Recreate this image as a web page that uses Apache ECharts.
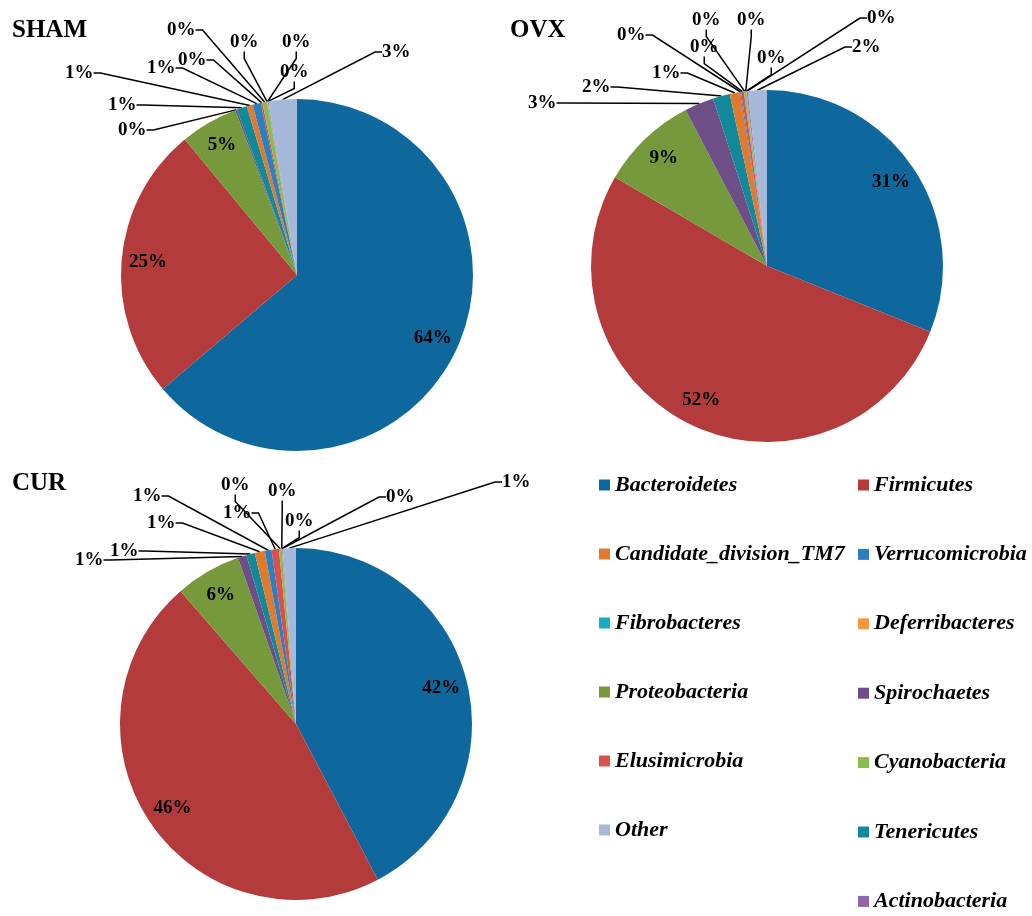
<!DOCTYPE html>
<html>
<head>
<meta charset="utf-8">
<script src="https://cdn.jsdelivr.net/npm/echarts@6/dist/echarts.min.js"></script>
<style>
  html, body { margin: 0; padding: 0; background: #ffffff; }
  #chart { width: 1032px; height: 916px; }
</style>
</head>
<body>
<div id="chart"></div>
<script>
// Phyla in slice order (clockwise from 12 o'clock)
const phyla = [
  'Bacteroidetes', 'Firmicutes', 'Proteobacteria', 'Spirochaetes', 'Tenericutes',
  'Candidate_division_TM7', 'Verrucomicrobia', 'Elusimicrobia', 'Cyanobacteria',
  'Fibrobacteres', 'Deferribacteres', 'Actinobacteria', 'Other'
];

// Relative abundance (%) per group, same order as phyla
const shamValues = [63.8, 25.2, 5.3, 0.15, 0.95, 0.55, 0.75, 0.15, 0.4, 0.05, 0.05, 0.05, 2.6];
const ovxValues  = [31.1, 52.3, 8.95, 2.7, 1.55, 0.95, 0.1, 0.25, 0.15, 0.05, 0.05, 0.1, 1.75];
const curValues  = [42.3, 46.3, 6.05, 0.8, 0.78, 0.93, 0.62, 0.67, 0.25, 0.02, 0.03, 0.05, 1.2];

const groupNames = ['SHAM', 'OVX', 'CUR'];

// Legend columns
const legendLeftNames  = ['Bacteroidetes', 'Candidate_division_TM7', 'Fibrobacteres', 'Proteobacteria', 'Elusimicrobia', 'Other'];
const legendRightNames = ['Firmicutes', 'Verrucomicrobia', 'Deferribacteres', 'Spirochaetes', 'Cyanobacteria', 'Tenericutes', 'Actinobacteria'];

// Styling
const phylumColors = {
  'Bacteroidetes': '#0E689E',
  'Firmicutes': '#B33B3B',
  'Proteobacteria': '#76993C',
  'Spirochaetes': '#6E4E86',
  'Tenericutes': '#12899A',
  'Candidate_division_TM7': '#E07A2E',
  'Verrucomicrobia': '#2B7FC3',
  'Elusimicrobia': '#D9504D',
  'Cyanobacteria': '#8DBB4B',
  'Fibrobacteres': '#17ABC8',
  'Deferribacteres': '#F7963F',
  'Actinobacteria': '#8C66AA',
  'Other': '#A6B9DA'
};
const FONT = "'Liberation Serif', 'Times New Roman', serif";
const RADIUS = 176;
const INNER_LABEL_RATIO = 0.85;   // big-slice labels sit near the rim
const BIG_SLICES = 3;             // first three slices are labelled inside

// Pie placement and where the callout labels of the small slices go
const pieLayouts = [
  { center: [297, 275], titlePos: [12, 18],
    callouts: [[118,130],[108,105],[65,73],[147,68],[178,60],[167,30],[230,42],[282,42],[280,72],[382,52]] },
  { center: [767, 266], titlePos: [510, 18],
    callouts: [[528,103],[582,87],[652,73],[617,35],[690,47],[692,20],[737,20],[757,58],[867,18],[852,47]] },
  { center: [296, 724], titlePos: [12, 471],
    callouts: [[75,560],[110,551],[147,523],[133,496],[223,513],[221,485],[268,491],[285,521],[386,497],[502,482]] }
];
const groupValues = [shamValues, ovxValues, curValues];

function makeSeries(gi) {
  const values = groupValues[gi];
  const lay = pieLayouts[gi];
  const total = values.reduce((a, b) => a + b, 0);
  const cumBefore = [];
  values.reduce((acc, v, i) => { cumBefore[i] = acc; return acc + v; }, 0);

  return {
    type: 'pie',
    name: groupNames[gi],
    center: lay.center,
    radius: RADIUS,
    startAngle: 90,
    clockwise: true,
    avoidLabelOverlap: false,
    animation: false,
    silent: true,
    itemStyle: { borderWidth: 0 },
    data: phyla.map((name, i) => ({
      name: name,
      value: values[i],
      itemStyle: { color: phylumColors[name] },
      labelLine: { show: i >= BIG_SLICES }
    })),
    label: {
      show: true,
      position: 'outside',
      formatter: p => Math.round(p.value / total * 100) + '%',
      fontFamily: FONT,
      fontWeight: 'bold',
      fontSize: 19,
      color: '#000000',
      padding: [0, 3]
    },
    labelLine: {
      show: true,
      length: 10,
      length2: 7,
      minTurnAngle: 0,
      smooth: false,
      lineStyle: { color: '#000000', width: 1.5 }
    },
    labelLayout: params => {
      const i = params.dataIndex;
      if (i < BIG_SLICES) {
        const a = (cumBefore[i] + values[i] / 2) / total * Math.PI * 2;
        return {
          x: lay.center[0] + INNER_LABEL_RATIO * RADIUS * Math.sin(a),
          y: lay.center[1] - INNER_LABEL_RATIO * RADIUS * Math.cos(a),
          align: 'center',
          verticalAlign: 'middle'
        };
      }
      const c = lay.callouts[i - BIG_SLICES];
      return { x: c[0] - 3, y: c[1], align: 'left', verticalAlign: 'middle' };
    }
  };
}

const legendText = {
  fontFamily: FONT,
  fontStyle: 'italic',
  fontWeight: 'bold',
  fontSize: 22,
  color: '#000000',
  lineHeight: 22
};

const chart = echarts.init(document.getElementById('chart'), null, { renderer: 'canvas' });
chart.setOption({
  backgroundColor: '#ffffff',
  animation: false,
  title: groupNames.map((g, gi) => ({
    text: g,
    left: pieLayouts[gi].titlePos[0],
    top: pieLayouts[gi].titlePos[1],
    padding: 0,
    textStyle: { fontFamily: FONT, fontWeight: 'bold', fontSize: 25, color: '#000000' }
  })),
  legend: [
    { orient: 'vertical', left: 599, top: 474, padding: 0, icon: 'rect',
      itemWidth: 11, itemHeight: 11, itemGap: 47, selectedMode: false,
      data: legendLeftNames, textStyle: legendText },
    { orient: 'vertical', left: 858, top: 474, padding: 0, icon: 'rect',
      itemWidth: 11, itemHeight: 11, itemGap: 47.4, selectedMode: false,
      data: legendRightNames, textStyle: legendText }
  ],
  series: [0, 1, 2].map(makeSeries)
});
</script>
</body>
</html>
